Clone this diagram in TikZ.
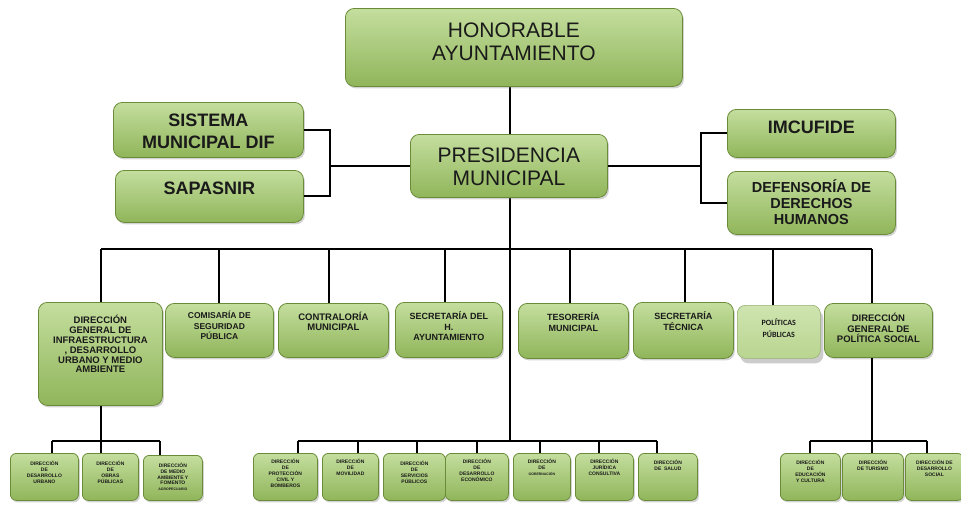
\documentclass[tikz,border=0pt]{standalone}
\usepackage{fontspec}
\setmainfont{Liberation Sans}
\newfontfamily\calib{Carlito}
\usetikzlibrary{shadows,calc}
\definecolor{gtop}{HTML}{C4DE9E}
\definecolor{gbot}{HTML}{90B55A}
\definecolor{gborder}{HTML}{6A8C38}
\definecolor{ptop}{HTML}{CFE4B0}
\definecolor{pbot}{HTML}{B9D590}
\definecolor{txt}{HTML}{1A1A1A}
\newcommand{\fz}[2]{\fontsize{#1}{#2}\selectfont}
\newcommand{\bt}[4]{\parbox[c][#2][t]{#1}{\centering\rule{0pt}{#3}#4\par}}
\tikzset{
  gbox/.style={draw=gborder, line width=0.8pt, rounded corners=9pt, top color=gtop, bottom color=gbot,
    inner sep=0pt, anchor=north west, text=txt,
    drop shadow={shadow xshift=1.5pt, shadow yshift=-2pt, opacity=0.35}},
  sbox/.style={gbox, rounded corners=6pt},
  pbox/.style={draw=gborder!70, line width=0.6pt, rounded corners=8pt, top color=ptop, bottom color=pbot,
    inner sep=0pt, anchor=north west, text=txt,
    drop shadow={shadow xshift=3pt, shadow yshift=-5pt, opacity=0.4}},
  conn/.style={line width=2.2pt, black},
  thin/.style={line width=1.9pt, black}
}
\begin{document}
\begin{tikzpicture}[x=1pt,y=-1pt]
\useasboundingbox (0,0) rectangle (961,504);
% coordinates
\coordinate (cx) at (510,0);
\coordinate (lbx) at (330,160);
\coordinate (rbx) at (701,165);
\foreach \n/\x in {m1/101,m2/219,m3/329,m4/445,m5/570,m6/685,m7/773,m8/872}{\coordinate (\n) at (\x,249);}
\foreach \n/\x in {l1/52,l2/101,l3/160,c0/510,c1/298,c2/358,c3/417,c4/477,c5/540,c6/599,c7/657,r1/810,r2/872,r3/927}{\coordinate (\n) at (\x,441);}

% connectors first (behind boxes)
\draw[conn] (cx |- 0,80) -- (cx |- 0,140);
\draw[conn] (cx |- 0,190) -- (c0);
\draw[conn] (m1) -- (m8);
\draw[conn] (l1) -- (l3);
\draw[conn] (c1) -- (c7);
\draw[conn] (r1) -- (r3);

% top
\node[gbox] (ayto) at (345,8) {\bt{337pt}{78pt}{29.5pt}{\fz{21}{23}HONORABLE\\AYUNTAMIENTO}};
\node[gbox] (pres) at (410,134) {\bt{197pt}{63pt}{28.5pt}{\fz{21}{23}PRESIDENCIA\\MUNICIPAL}};
\node[gbox] (dif) at (113,102) {\bt{190pt}{55pt}{24.5pt}{\bfseries\fz{18}{22}SISTEMA\\MUNICIPAL DIF}};
\node[gbox] (sap) at (115,170) {\bt{188pt}{52pt}{24.5pt}{\bfseries\fz{18}{22}SAPASNIR}};
\node[gbox] (imc) at (727,109) {\bt{168pt}{48pt}{24.5pt}{\bfseries\fz{18}{22}IMCUFIDE}};
\node[gbox] (def) at (727,171) {\bt{168pt}{63pt}{21pt}{\bfseries\fz{14.5}{16}DEFENSORÍA DE\\DERECHOS\\HUMANOS}};

% middle row
\node[gbox] (infra) at (38,302) {\bt{124pt}{103pt}{21.5pt}{\bfseries\fz{9.5}{9.8}DIRECCIÓN\\GENERAL DE\\INFRAESTRUCTURA\\, DESARROLLO\\URBANO Y MEDIO\\AMBIENTE}};
\node[gbox] (comis) at (165,303) {\bt{108pt}{54pt}{15pt}{\bfseries\fz{8.5}{10.7}COMISARÍA DE\\SEGURIDAD\\PÚBLICA}};
\node[gbox] (contr) at (278,303) {\bt{110pt}{54pt}{17pt}{\bfseries\fz{9.5}{10.5}CONTRALORÍA\\MUNICIPAL}};
\node[gbox] (sech) at (395,302) {\bt{107pt}{55pt}{17.5pt}{\bfseries\fz{9}{10.5}SECRETARÍA DEL\\H.\\AYUNTAMIENTO}};
\node[gbox] (teso) at (518,303) {\bt{110pt}{55pt}{17.5pt}{\bfseries\fz{9}{11}TESORERÍA\\MUNICIPAL}};
\node[gbox] (sect) at (633,302) {\bt{100pt}{56pt}{17pt}{\bfseries\fz{9}{11}SECRETARÍA\\TÉCNICA}};
\node[pbox] (polp) at (737,305) {\bt{83pt}{53pt}{20pt}{\calib\bfseries\fz{8}{11.7}POLÍTICAS\\PÚBLICAS}};
\node[gbox] (psoc) at (824,303) {\bt{108pt}{54pt}{18.5pt}{\bfseries\fz{9.5}{10.3}DIRECCIÓN\\GENERAL DE\\POLÍTICA SOCIAL}};

% bottom row
\node[sbox] (du) at (10,453) {\bt{68pt}{47pt}{12pt}{\bfseries\fz{5}{6}DIRECCIÓN\\DE\\DESARROLLO\\URBANO}};
\node[sbox] (op) at (82,453) {\bt{56pt}{47pt}{12pt}{\bfseries\fz{5}{6}DIRECCIÓN\\DE\\OBRAS\\PÚBLICAS}};
\node[sbox] (ma) at (143,455) {\bt{59pt}{45pt}{12pt}{\bfseries\fz{5}{5.8}DIRECCIÓN\\DE MEDIO\\AMBIENTE Y\\FOMENTO\\{\fz{3.5}{6.5}AGROPECUARIO}}};
\node[sbox] (pc) at (253,453) {\bt{64pt}{47pt}{10.5pt}{\bfseries\fz{5}{6}DIRECCIÓN\\DE\\PROTECCIÓN\\CIVIL Y\\BOMBEROS}};
\node[sbox] (mov) at (322,453) {\bt{56pt}{47pt}{10.5pt}{\bfseries\fz{5}{6}DIRECCIÓN\\DE\\MOVILIDAD}};
\node[sbox] (sp) at (383,453) {\bt{62pt}{47pt}{12pt}{\bfseries\fz{5}{6}DIRECCIÓN\\DE\\SERVICIOS\\PÚBLICOS}};
\node[sbox] (de) at (445,453) {\bt{63pt}{47pt}{10.5pt}{\bfseries\fz{5}{6}DIRECCIÓN\\DE\\DESARROLLO\\ECONÓMICO}};
\node[sbox] (gob) at (513,453) {\bt{57pt}{47pt}{10.5pt}{\bfseries\fz{5}{6}DIRECCIÓN\\DE\\{\fz{3.5}{6}GOBERNACIÓN}}};
\node[sbox] (jur) at (575,453) {\bt{58pt}{47pt}{10.5pt}{\bfseries\fz{5}{6}DIRECCIÓN\\JURÍDICA\\CONSULTIVA}};
\node[sbox] (sal) at (638,453) {\bt{59pt}{47pt}{11pt}{\bfseries\fz{5}{6}DIRECCIÓN\\DE\ \ SALUD}};
\node[sbox] (edu) at (780,453) {\bt{60pt}{47pt}{11.5pt}{\bfseries\fz{5}{6}DIRECCIÓN\\DE\\EDUCACIÓN\\Y CULTURA}};
\node[sbox] (tur) at (842,453) {\bt{61pt}{47pt}{11.5pt}{\bfseries\fz{5}{6}DIRECCIÓN\\DE TURISMO}};
\node[sbox] (ds) at (905,453) {\bt{58pt}{47pt}{11.5pt}{\bfseries\fz{5}{6}DIRECCIÓN DE\\DESARROLLO\\SOCIAL}};

% side brackets
\draw[thin] (dif.east) -| (lbx) |- (sap.east);
\draw[thin] (pres.west) -- (pres.west -| lbx);
\draw[thin] (imc.west) -| (rbx) |- (def.west);
\draw[thin] (pres.east) -- (pres.east -| rbx);

% main bus drops
\foreach \c/\n in {m1/infra,m2/comis,m3/contr,m4/sech,m5/teso,m6/sect,m7/polp,m8/psoc}{\draw[conn] (\c) -- (\c |- \n.north);}
% lower drops
\draw[conn] (l2 |- infra.south) -- (l2);
\draw[conn] (r2 |- psoc.south) -- (r2);
\foreach \c/\n in {l1/du,l2/op,l3/ma,c1/pc,c2/mov,c3/sp,c4/de,c5/gob,c6/jur,c7/sal,r1/edu,r2/tur,r3/ds}{\draw[conn] (\c) -- (\c |- \n.north);}
\end{tikzpicture}
\end{document}
